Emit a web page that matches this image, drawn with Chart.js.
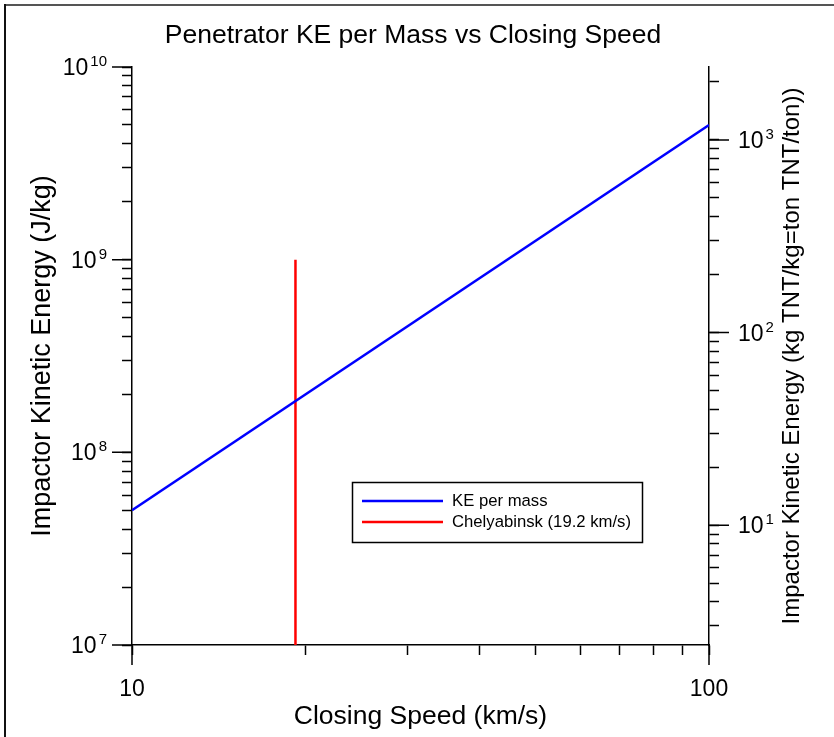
<!DOCTYPE html>
<html>
<head>
<meta charset="utf-8">
<script src="https://cdn.jsdelivr.net/npm/chart.js@4.4.0/dist/chart.umd.min.js"></script>
<style>
  html, body { margin: 0; padding: 0; background: #fff; }
  #wrap { width: 834px; height: 737px; position: relative; }
</style>
</head>
<body>
<div id="wrap"><canvas id="chart" width="834" height="737"></canvas></div>
<script>
// closing speed (km/s) -> kinetic energy per unit mass (J/kg)
const keSpeed = [10, 100];
const keEnergy = [5e7, 5e9];
// Chelyabinsk marker, vertical line at 19.2 km/s
const chelSpeed = [19.2, 19.2];
const chelEnergy = [1e7, 1e9];

const seriesLabels = ["KE per mass", "Chelyabinsk (19.2 km/s)"];
const seriesColors = ["#0000ff", "#ff0000"];

const xRange = [10, 100];
const yRange = [1e7, 1e10];
const jPerKgTNT = 4.184e6;
const leftExponents = [7, 8, 9, 10];
const rightExponents = [1, 2, 3];

const titleText = "Penetrator KE per Mass vs Closing Speed";
const xTitle = "Closing Speed (km/s)";
const yTitle = "Impactor Kinetic Energy (J/kg)";
const y2Title = "Impactor Kinetic Energy (kg TNT/kg=ton TNT/ton))";

const fam = '"Liberation Sans", Arial, sans-serif';
Chart.defaults.font.family = fam;
Chart.defaults.color = "#000";

function isDecade(v) {
  const l = Math.log10(v);
  return Math.abs(l - Math.round(l)) < 1e-6;
}

function logTicks(min, max) {
  const out = [];
  for (let e = Math.floor(Math.log10(min)); e <= Math.ceil(Math.log10(max)); e++) {
    for (let m = 1; m < 10; m++) {
      const v = m * Math.pow(10, e);
      if (v >= min * 0.999999 && v <= max * 1.000001) out.push({ value: v });
    }
  }
  return out;
}

const axisGrid = {
  drawOnChartArea: false,
  drawTicks: true,
  tickLength: 10,
  tickColor: "#000",
  tickWidth: 1.5,
};
const axisBorder = { display: true, color: "#000", width: 1.5 };

function drawPow(ctx, e, x, y, align) {
  ctx.font = "23px " + fam;
  const baseW = ctx.measureText("10").width;
  ctx.font = "15px " + fam;
  const expW = ctx.measureText(String(e)).width;
  const x0 = align === "right" ? x - baseW - 2 - expW : x;
  ctx.textAlign = "left";
  ctx.textBaseline = "alphabetic";
  ctx.font = "23px " + fam;
  ctx.fillText("10", x0, y + 8);
  ctx.font = "15px " + fam;
  ctx.fillText(String(e), x0 + baseW + 2, y - 1);
}

const decor = {
  id: "decor",
  beforeDraw(chart) {
    const ctx = chart.ctx;
    ctx.save();
    ctx.fillStyle = "#fff";
    ctx.fillRect(0, 0, chart.width, chart.height);
    ctx.lineWidth = 2;
    ctx.strokeStyle = "#555";
    ctx.beginPath(); ctx.moveTo(4, 5); ctx.lineTo(chart.width, 5); ctx.stroke();
    ctx.strokeStyle = "#111";
    ctx.beginPath(); ctx.moveTo(5, 4); ctx.lineTo(5, chart.height); ctx.stroke();
    ctx.restore();
  },
  afterDraw(chart) {
    const ctx = chart.ctx;
    const a = chart.chartArea;
    const sx = chart.scales.x, sy = chart.scales.y, sy2 = chart.scales.y2;
    ctx.save();
    ctx.fillStyle = "#000";
    ctx.strokeStyle = "#000";
    ctx.lineWidth = 1.5;

    // longer major ticks
    ctx.beginPath();
    sx.ticks.forEach(t => {
      if (!isDecade(t.value)) return;
      const p = sx.getPixelForValue(t.value);
      ctx.moveTo(p, a.bottom); ctx.lineTo(p, a.bottom + 20);
    });
    sy.ticks.forEach(t => {
      if (!isDecade(t.value)) return;
      const p = sy.getPixelForValue(t.value);
      ctx.moveTo(a.left, p); ctx.lineTo(a.left - 20, p);
    });
    sy2.ticks.forEach(t => {
      if (!isDecade(t.value)) return;
      const p = sy2.getPixelForValue(t.value);
      ctx.moveTo(a.right, p); ctx.lineTo(a.right + 20, p);
    });
    ctx.stroke();

    // power-of-ten labels
    leftExponents.forEach(e => drawPow(ctx, e, a.left - 25, sy.getPixelForValue(Math.pow(10, e)), "right"));
    rightExponents.forEach(e => drawPow(ctx, e, a.right + 29, sy2.getPixelForValue(Math.pow(10, e)), "left"));

    // title
    ctx.textAlign = "center";
    ctx.textBaseline = "middle";
    ctx.font = "26.5px " + fam;
    ctx.fillText(titleText, 413, 36);

    // right axis title, reads bottom to top
    ctx.save();
    ctx.translate(792, (a.top + a.bottom) / 2);
    ctx.rotate(-Math.PI / 2);
    ctx.font = "24px " + fam;
    ctx.fillText(y2Title, 0, 0);
    ctx.restore();

    // legend box inside plot
    const lx = 352.5, ly = 482.5, lw = 290, lh = 60;
    ctx.fillStyle = "#fff";
    ctx.fillRect(lx, ly, lw, lh);
    ctx.lineWidth = 1.5;
    ctx.strokeRect(lx, ly, lw, lh);
    ctx.font = "16.7px " + fam;
    ctx.textAlign = "left";
    ctx.textBaseline = "middle";
    chart.data.datasets.forEach((ds, i) => {
      const yy = 501 + i * 21;
      ctx.strokeStyle = ds.borderColor;
      ctx.lineWidth = 2.5;
      ctx.beginPath(); ctx.moveTo(362, yy); ctx.lineTo(443, yy); ctx.stroke();
      ctx.fillStyle = "#000";
      ctx.fillText(ds.label, 452, yy);
    });
    ctx.restore();
  }
};

new Chart(document.getElementById("chart"), {
  type: "line",
  data: {
    datasets: [
      {
        label: seriesLabels[0],
        data: keSpeed.map((x, i) => ({ x: x, y: keEnergy[i] })),
        borderColor: seriesColors[0],
        backgroundColor: seriesColors[0],
        borderWidth: 2.5,
        pointRadius: 0,
        tension: 0,
        fill: false,
      },
      {
        label: seriesLabels[1],
        data: chelSpeed.map((x, i) => ({ x: x, y: chelEnergy[i] })),
        borderColor: seriesColors[1],
        backgroundColor: seriesColors[1],
        borderWidth: 2.5,
        pointRadius: 0,
        tension: 0,
        fill: false,
      },
    ],
  },
  options: {
    responsive: false,
    maintainAspectRatio: false,
    animation: false,
    layout: { padding: { top: 67, left: 0, right: 0, bottom: 0 } },
    plugins: {
      legend: { display: false },
      tooltip: { enabled: false },
    },
    scales: {
      x: {
        type: "logarithmic",
        position: "bottom",
        min: xRange[0],
        max: xRange[1],
        afterBuildTicks: s => { s.ticks = logTicks(s.min, s.max); },
        afterFit: s => { s.height = 92; },
        grid: axisGrid,
        border: axisBorder,
        ticks: {
          autoSkip: false,
          maxRotation: 0,
          padding: 21,
          font: { size: 23 },
          callback: v => isDecade(v) ? String(Math.round(v)) : "",
        },
        title: { display: true, text: xTitle, font: { size: 26.5 }, padding: 4 },
      },
      y: {
        type: "logarithmic",
        position: "left",
        min: yRange[0],
        max: yRange[1],
        afterBuildTicks: s => { s.ticks = logTicks(s.min, s.max); },
        afterFit: s => { s.width = 132; },
        grid: axisGrid,
        border: axisBorder,
        ticks: { display: false },
        title: { display: true, text: yTitle, font: { size: 27 }, padding: { top: 26, bottom: 0 } },
      },
      y2: {
        type: "logarithmic",
        position: "right",
        min: yRange[0] / jPerKgTNT,
        max: yRange[1] / jPerKgTNT,
        afterBuildTicks: s => { s.ticks = logTicks(s.min, s.max); },
        afterFit: s => { s.width = 125; },
        grid: axisGrid,
        border: axisBorder,
        ticks: { display: false },
      },
    },
  },
  plugins: [decor],
});
</script>
</body>
</html>
